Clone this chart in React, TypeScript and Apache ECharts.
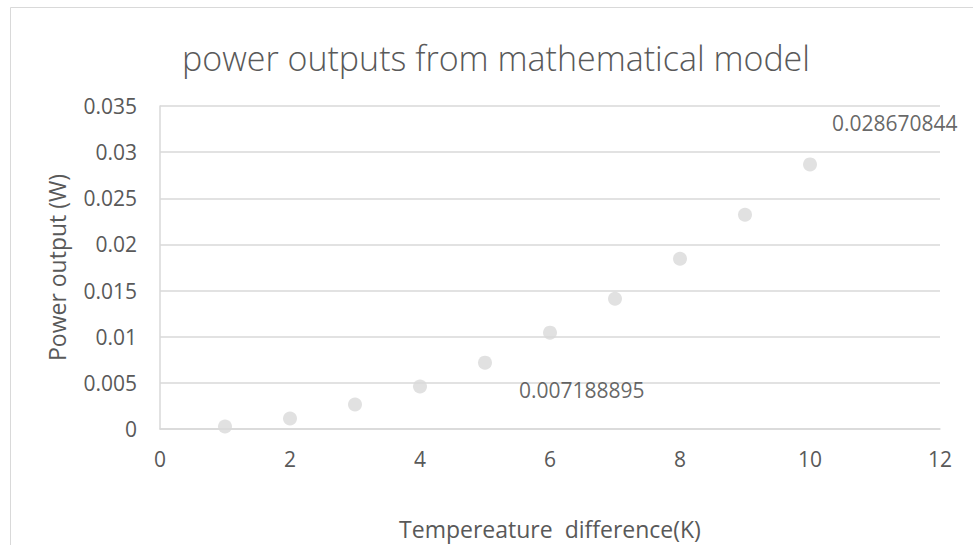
import React, { useEffect, useRef } from "react";
import * as echarts from "echarts";

const titleText = "power outputs from mathematical model";
const xAxisName = "Tempereature  difference(K)";
const yAxisName = "Power output (W)";
const tempDiff = [1, 2, 3, 4, 5, 6, 7, 8, 9, 10];
const powerOut = [0.00027, 0.00114, 0.00265, 0.0046, 0.007188895, 0.01044, 0.01412, 0.01845, 0.02321, 0.028670844];
const labelledIndex = [4, 9];

export default function App() {
  const ref = useRef<HTMLDivElement>(null);
  useEffect(() => {
    if (!ref.current) return;
    const chart = echarts.init(ref.current, undefined, { renderer: "svg" });
    const font = "'Open Sans', 'Noto Sans', sans-serif";
    const data = tempDiff.map((x, i) => {
      const item: any = { value: [x, powerOut[i]] };
      if (labelledIndex.includes(i)) {
        item.label = {
          show: true,
          formatter: String(powerOut[i]),
          position: i === 9 ? [29, -34] : [41, 34],
          align: "left",
          verticalAlign: "middle",
          color: "#404040",
          fontSize: 21,
          fontFamily: font,
        };
      }
      return item;
    });
    chart.setOption({
      animation: false,
      backgroundColor: "#ffffff",
      title: {
        text: titleText,
        left: 491,
        textAlign: "center",
        top: 36,
        textStyle: { fontSize: 34, fontWeight: 300, color: "#595959", fontFamily: font },
      },
      graphic: [
        {
          type: "rect",
          shape: { x: 10.5, y: 7.5, width: 1000, height: 600 },
          style: { fill: "none", stroke: "#d9d9d9", lineWidth: 1 },
          silent: true,
        },
      ],
      grid: { left: 160, right: 33, top: 106, bottom: 115 },
      xAxis: {
        type: "value",
        min: 0,
        max: 12,
        interval: 2,
        name: xAxisName,
        nameLocation: "middle",
        nameGap: 88,
        nameTextStyle: { fontSize: 23, color: "#595959", fontFamily: font },
        axisLine: { show: true, lineStyle: { color: "#d9d9d9", width: 1.5 } },
        axisTick: { show: false },
        splitLine: { show: false },
        axisLabel: { fontSize: 21, color: "#595959", fontFamily: font, margin: 19 },
      },
      yAxis: {
        type: "value",
        min: 0,
        max: 0.035,
        interval: 0.005,
        name: yAxisName,
        nameLocation: "middle",
        nameGap: 92,
        nameTextStyle: { fontSize: 23, color: "#595959", fontFamily: font },
        axisLine: { show: true, lineStyle: { color: "#d9d9d9", width: 1.5 } },
        axisTick: { show: false },
        splitLine: { show: true, lineStyle: { color: "#d9d9d9", width: 1.5 } },
        axisLabel: { fontSize: 21, color: "#595959", fontFamily: font, margin: 23 },
      },
      series: [
        {
          type: "scatter",
          data,
          symbol: "circle",
          symbolSize: 14,
          itemStyle: { color: "#d9d9d9" },
        },
      ],
    });
    return () => chart.dispose();
  }, []);
  return (
    <div
      ref={ref}
      style={{ position: "absolute", left: 0, top: 0, width: 973, height: 545 }}
    />
  );
}
